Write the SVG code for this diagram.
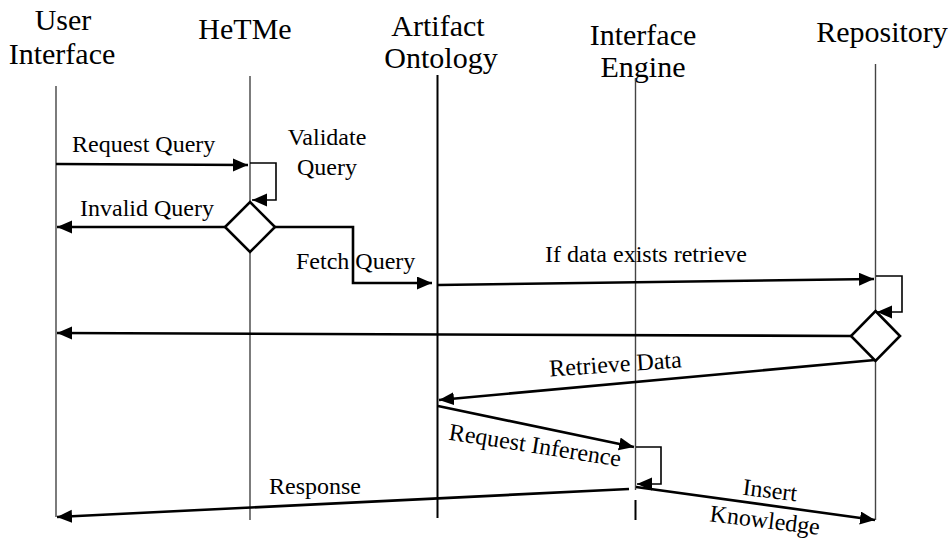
<svg xmlns="http://www.w3.org/2000/svg" width="948" height="548" viewBox="0 0 948 548">
<defs>
<marker id="ah" markerUnits="userSpaceOnUse" markerWidth="16" markerHeight="14" refX="15" refY="6.5" orient="auto">
<path d="M0,0 L15,6.5 L0,13 z" fill="#000"/>
</marker>
</defs>
<style>
.hdr{font-family:"Liberation Serif","Times New Roman",serif;font-size:30px;fill:#000;text-anchor:middle}
.lbl{font-family:"Liberation Serif","Times New Roman",serif;font-size:24px;fill:#000}
.mid{text-anchor:middle}
.life{stroke:#444;stroke-width:1.4;fill:none}
.msg{stroke:#000;stroke-width:2.6;fill:none}
.loop{stroke:#000;stroke-width:1.6;fill:none}
.dia{fill:#fff;stroke:#000;stroke-width:2.6}
</style>
<rect width="948" height="548" fill="#fff"/>

<g id="user-interface">
<text class="hdr" x="63" y="30">User</text>
<text class="hdr" x="62" y="64">Interface</text>
<line class="life" x1="56" y1="86" x2="56" y2="517"/>
</g>
<g id="hetme">
<text class="hdr" x="245" y="39">HeTMe</text>
<line class="life" x1="250" y1="76" x2="250" y2="202"/>
<line class="life" x1="250" y1="252" x2="250" y2="520"/>
</g>
<g id="artifact-ontology">
<text class="hdr" x="438" y="36">Artifact</text>
<text class="hdr" x="441" y="68">Ontology</text>
<line class="life" style="stroke:#000;stroke-width:2" x1="437.5" y1="75" x2="437.5" y2="518"/>
</g>
<g id="interface-engine">
<text class="hdr" x="643" y="45">Interface</text>
<text class="hdr" x="643" y="77">Engine</text>
<line class="life" x1="635.5" y1="78" x2="635.5" y2="490"/>
<line class="life" style="stroke:#000;stroke-width:2" x1="635.5" y1="500" x2="635.5" y2="520"/>
</g>
<g id="repository">
<text class="hdr" x="882" y="42">Repository</text>
<line class="life" x1="875.5" y1="64" x2="875.5" y2="311"/>
<line class="life" x1="875.5" y1="361" x2="875.5" y2="520"/>
</g>

<g id="connectors">
<line class="msg" x1="56" y1="164" x2="248" y2="165" marker-end="url(#ah)"/>
<polyline class="loop" points="250,163 276,163 276,200 252,200" marker-end="url(#ah)"/>
<line class="msg" x1="225" y1="227" x2="57" y2="227" marker-end="url(#ah)"/>
<polyline class="msg" points="275,227 353,227 353,283 432,283" marker-end="url(#ah)"/>
<line class="msg" x1="438" y1="285" x2="874" y2="279" marker-end="url(#ah)"/>
<polyline class="loop" points="876,276 902,276 902,312 877,312" marker-end="url(#ah)"/>
<line class="msg" x1="851" y1="336" x2="57" y2="333" marker-end="url(#ah)"/>
<line class="msg" x1="875" y1="360" x2="439" y2="400" marker-end="url(#ah)"/>
<line class="msg" x1="438" y1="406" x2="634" y2="447" marker-end="url(#ah)"/>
<polyline class="loop" points="636,447 661,447 661,484 637,484" marker-end="url(#ah)"/>
<line class="msg" x1="629" y1="489" x2="57" y2="517" marker-end="url(#ah)"/>
<line class="msg" x1="636" y1="487" x2="875" y2="520" marker-end="url(#ah)"/>
</g>

<g id="decision-hetme">
<polygon class="dia" points="250,202 275,227 250,252 225,227"/>
</g>
<g id="decision-repository">
<polygon class="dia" points="875.5,311 900,336 875.5,361 851,336"/>
</g>

<g id="labels">
<text class="lbl" x="72" y="152">Request Query</text>
<text class="lbl mid" x="327" y="145">Validate</text>
<text class="lbl mid" x="327" y="175">Query</text>
<text class="lbl" x="80" y="216">Invalid Query</text>
<text class="lbl" x="296" y="269">Fetch Query</text>
<text class="lbl mid" x="646" y="262">If data exists retrieve</text>
<text class="lbl mid" transform="translate(616,372) rotate(-4)">Retrieve Data</text>
<text class="lbl mid" transform="translate(534,453) rotate(9)">Request Inference</text>
<text class="lbl" x="269" y="494">Response</text>
<text class="lbl mid" transform="translate(769,498) rotate(7)">Insert</text>
<text class="lbl mid" transform="translate(764,528) rotate(7)">Knowledge</text>
</g>
</svg>
